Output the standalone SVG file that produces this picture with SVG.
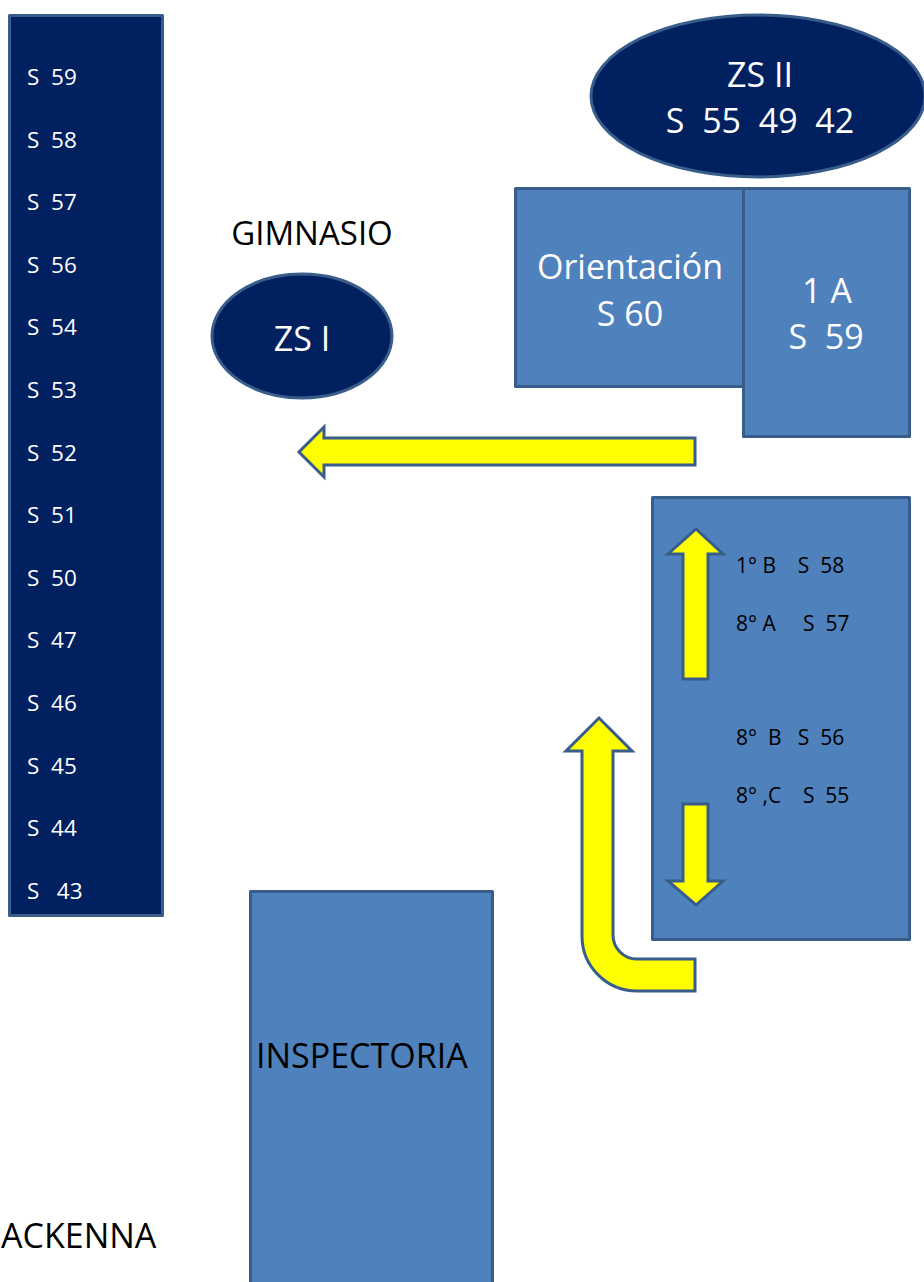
<svg xmlns="http://www.w3.org/2000/svg" width="924" height="1282" viewBox="0 0 924 1282">
<style>
.navy{fill:#002060;stroke:#385D8A;stroke-width:3;stroke-linejoin:round}
.blue{fill:#4F81BD;stroke:#385D8A;stroke-width:3;stroke-linejoin:round}
.arrow{fill:#FFFF00;stroke:#385D8A;stroke-width:3;stroke-linejoin:miter}
text{font-family:"Open Sans","Liberation Sans",sans-serif;white-space:pre}
.w{fill:#FFFFFF}
.k{fill:#000000}
.big{font-size:34px}
.sm{font-size:22.5px}
.xs{font-size:21px}
.mid{text-anchor:middle}
</style>
<rect width="924" height="1282" fill="#FFFFFF"/>
<g id="column">
<rect class="navy" x="9.5" y="15.5" width="153" height="900"/>
<g class="w sm">
<text x="27" y="85" xml:space="preserve">S  59</text>
<text x="27" y="147.6" xml:space="preserve">S  58</text>
<text x="27" y="210.2" xml:space="preserve">S  57</text>
<text x="27" y="272.8" xml:space="preserve">S  56</text>
<text x="27" y="335.4" xml:space="preserve">S  54</text>
<text x="27" y="398" xml:space="preserve">S  53</text>
<text x="27" y="460.6" xml:space="preserve">S  52</text>
<text x="27" y="523.2" xml:space="preserve">S  51</text>
<text x="27" y="585.8" xml:space="preserve">S  50</text>
<text x="27" y="648.4" xml:space="preserve">S  47</text>
<text x="27" y="711" xml:space="preserve">S  46</text>
<text x="27" y="773.6" xml:space="preserve">S  45</text>
<text x="27" y="836.2" xml:space="preserve">S  44</text>
<text x="27" y="898.8" xml:space="preserve">S   43</text>
</g>
</g>
<g id="zs2">
<ellipse class="navy" cx="758" cy="96" rx="167" ry="81"/>
<text class="w big mid" x="760" y="87">ZS II</text>
<text class="w big mid" x="760" y="133" xml:space="preserve">S  55  49  42</text>
</g>
<g id="orientacion">
<rect class="blue" x="515.5" y="188.5" width="229" height="198"/>
<text class="w big mid" x="630" y="279">Orientación</text>
<text class="w big mid" x="630" y="326">S 60</text>
</g>
<g id="s59">
<rect class="blue" x="743.5" y="188.5" width="166" height="248"/>
<text class="w big mid" x="827" y="303">1 A</text>
<text class="w big mid" x="826" y="349" xml:space="preserve">S  59</text>
</g>
<g id="gimnasio">
<text class="k mid" x="312" y="245" font-size="33">GIMNASIO</text>
</g>
<g id="zs1">
<ellipse class="navy" cx="302" cy="336" rx="90" ry="62"/>
<text class="w big mid" x="302" y="351">ZS I</text>
</g>
<g id="salas">
<rect class="blue" x="652.5" y="497.5" width="257" height="442"/>
<g class="k xs">
<text x="736" y="573" xml:space="preserve">1° B    S  58</text>
<text x="736" y="631" xml:space="preserve">8° A     S  57</text>
<text x="736" y="745" xml:space="preserve">8°  B   S  56</text>
<text x="736" y="803" xml:space="preserve">8° ,C    S  55</text>
</g>
</g>
<g id="inspectoria">
<rect class="blue" x="250.5" y="891.5" width="242" height="400"/>
<text class="k big" x="256" y="1068">INSPECTORIA</text>
</g>
<g id="mackenna">
<text class="k big" x="1" y="1248">ACKENNA</text>
</g>
<g id="connectors">
<path class="arrow" d="M695,438 L324,438 L324,427 L299,452 L324,477 L324,465 L695,465 Z"/>
<path class="arrow" d="M683,679 L683,554 L668,554 L696,529 L723,554 L708,554 L708,679 Z"/>
<path class="arrow" d="M683,804 L708,804 L708,881 L723,881 L696,905 L668,881 L683,881 Z"/>
<path class="arrow" d="M695,959 L637,959 A24,24 0 0 1 613,935 L613,751 L632,751 L599,718 L566,751 L582,751 L582,936 A55,55 0 0 0 637,991 L695,991 Z"/>
</g>
</svg>
